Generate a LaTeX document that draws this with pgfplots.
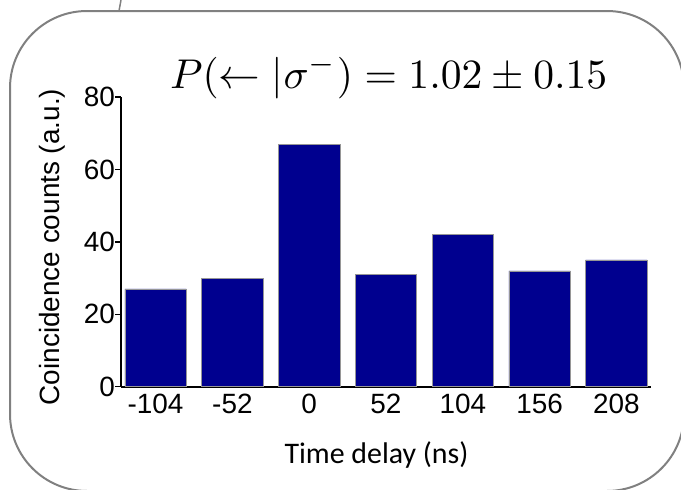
\documentclass[border=0pt]{standalone}
\usepackage{fontspec}
\usepackage{graphicx}
\usepackage{pgfplots}
\pgfplotsset{compat=1.18}
\newfontfamily\arial{Liberation Sans}
\newfontfamily\calibri{Carlito}
\definecolor{barblue}{RGB}{0,0,143}
\definecolor{framegray}{RGB}{128,128,128}
\definecolor{edgegray}{RGB}{150,150,150}
\begin{document}
\begin{tikzpicture}
\useasboundingbox (0,0) rectangle (681bp,-490bp);
\begin{scope}
\clip (0,0) rectangle (681bp,-490bp);
\draw[framegray, line width=2bp, rounded corners=77bp] (10bp,-11bp) rectangle (684bp,-491bp);
\draw[framegray, line width=1.5bp] (121bp,0bp) -- (119bp,-11bp);
\end{scope}
\begin{axis}[
  at={(121bp,-386.7bp)}, anchor=south west,
  scale only axis, width=530bp, height=289.7bp,
  xmin=-0.45, xmax=6.45, ymin=0, ymax=80,
  axis x line=bottom, axis y line=left,
  axis line style={-, line width=2bp, black},
  xtick={0,1,2,3,4,5,6},
  xticklabels={-104,-52,0,52,104,156,208},
  ytick={0,20,40,60,80},
  yticklabels={0,20,40,60,80},
  tick align=outside,
  major tick length=6bp,
  x tick style={draw=none},
  y tick style={line width=1.5bp, black},
  ticklabel style={font=\arial\fontsize{28}{28}\selectfont, inner sep=0pt},
  xticklabel style={yshift=-1bp},
  clip=false,
]
\addplot[ybar, bar width=0.8, fill=barblue, draw=edgegray, line width=0.6bp] table {
x y
0 27
1 30
2 67
3 31
4 42
5 32
6 35
};
\end{axis}
\node[rotate=90, inner sep=0pt, font=\arial\fontsize{28}{28}\selectfont] at (52bp,-247bp) {Coincidence counts (a.u.)};
\node[anchor=base, inner sep=0pt, font=\calibri\fontsize{30}{30}\selectfont] at (376.5bp,-463bp) {Time delay (ns)};
\node[anchor=base west, inner sep=0pt] at (170bp,-88bp) {\resizebox{437bp}{!}{$P(\leftarrow|\sigma^{-}) = 1.02 \pm 0.15$}};
\end{tikzpicture}
\end{document}
